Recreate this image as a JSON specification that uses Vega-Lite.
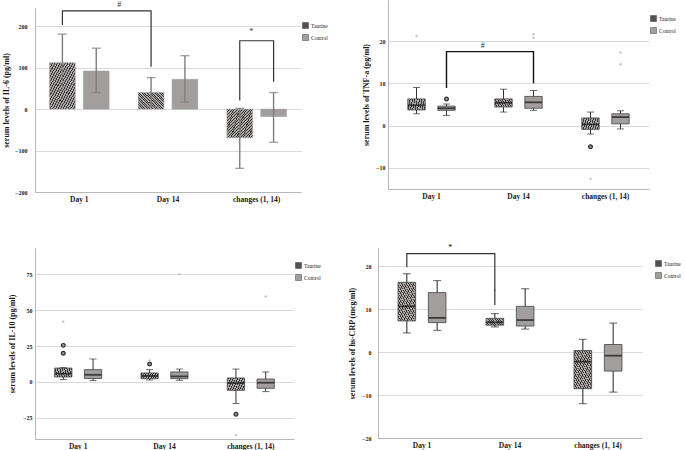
{
"$schema": "https://vega.github.io/schema/vega-lite/v6.json",
"background": "white",
"padding": {"left": 2, "top": 0, "right": 0, "bottom": 0},
"config": {
 "view": {"stroke": null},
 "font": "Liberation Serif",
 "axis": {"labelFont": "Liberation Serif", "labelFontWeight": "bold", "titleFont": "Liberation Serif", "titleFontWeight": "bold", "labelColor": "#1a1a1a", "titleColor": "#1a1a1a", "domainColor": "#b8b8b8", "domainWidth": 1, "ticks": false, "gridColor": "#dadada", "gridWidth": 1},
 "axisX": {"labelFontSize": 7.5, "labelPadding": 3, "labelAngle": 0, "grid": false},
 "axisY": {"labelFontSize": 6, "titleFontSize": 8, "labelPadding": 3, "titlePadding": 5, "grid": true},
 "legend": {"title": null, "orient": "none", "symbolType": "square", "symbolSize": 36, "symbolStrokeColor": "#555", "symbolStrokeWidth": 0.6, "labelFont": "Liberation Serif", "labelFontSize": 5.5, "labelColor": "#222", "rowPadding": 3, "labelOffset": 2, "padding": 0}
},
"datasets": {
 "il6": [
  {"day": "Day 1", "group": "Taurine", "mean": 112, "lo": 46, "hi": 181},
  {"day": "Day 1", "group": "Control", "mean": 92, "lo": 40, "hi": 147},
  {"day": "Day 14", "group": "Taurine", "mean": 40, "lo": 6, "hi": 76},
  {"day": "Day 14", "group": "Control", "mean": 72, "lo": 17, "hi": 129},
  {"day": "changes (1, 14)", "group": "Taurine", "mean": -69, "lo": -143, "hi": 2},
  {"day": "changes (1, 14)", "group": "Control", "mean": -18, "lo": -80, "hi": 40}
 ],
 "boxes": [
  {"panel": "TNF", "day": "Day 1", "group": "Taurine", "lo": 2.8, "q1": 3.7, "med": 4.8, "q3": 6.3, "hi": 9.0},
  {"panel": "TNF", "day": "Day 1", "group": "Control", "lo": 2.4, "q1": 3.6, "med": 4.1, "q3": 4.6, "hi": 5.1},
  {"panel": "TNF", "day": "Day 14", "group": "Taurine", "lo": 3.2, "q1": 4.4, "med": 5.4, "q3": 6.3, "hi": 8.6},
  {"panel": "TNF", "day": "Day 14", "group": "Control", "lo": 3.6, "q1": 4.1, "med": 5.5, "q3": 6.9, "hi": 8.3},
  {"panel": "TNF", "day": "changes (1, 14)", "group": "Taurine", "lo": -2.0, "q1": -0.9, "med": 0.3, "q3": 1.8, "hi": 3.2},
  {"panel": "TNF", "day": "changes (1, 14)", "group": "Control", "lo": -0.8, "q1": 0.4, "med": 2.0, "q3": 2.8, "hi": 3.5},
  {"panel": "IL10", "day": "Day 1", "group": "Taurine", "lo": 1.7, "q1": 3.5, "med": 5.8, "q3": 9.7, "hi": 10.0},
  {"panel": "IL10", "day": "Day 1", "group": "Control", "lo": 1.0, "q1": 2.4, "med": 5.0, "q3": 8.6, "hi": 16.0},
  {"panel": "IL10", "day": "Day 14", "group": "Taurine", "lo": 1.4, "q1": 2.3, "med": 4.2, "q3": 6.3, "hi": 8.6},
  {"panel": "IL10", "day": "Day 14", "group": "Control", "lo": 1.2, "q1": 2.3, "med": 3.9, "q3": 7.0, "hi": 9.0},
  {"panel": "IL10", "day": "changes (1, 14)", "group": "Taurine", "lo": -15.0, "q1": -5.8, "med": -0.7, "q3": 2.8, "hi": 9.0},
  {"panel": "IL10", "day": "changes (1, 14)", "group": "Control", "lo": -6.7, "q1": -4.4, "med": -0.5, "q3": 2.1, "hi": 7.0},
  {"panel": "CRP", "day": "Day 1", "group": "Taurine", "lo": 4.5, "q1": 7.3, "med": 10.7, "q3": 16.3, "hi": 18.3},
  {"panel": "CRP", "day": "Day 1", "group": "Control", "lo": 5.1, "q1": 6.9, "med": 8.0, "q3": 13.9, "hi": 16.7},
  {"panel": "CRP", "day": "Day 14", "group": "Taurine", "lo": 5.9, "q1": 6.3, "med": 7.0, "q3": 7.9, "hi": 9.0},
  {"panel": "CRP", "day": "Day 14", "group": "Control", "lo": 5.4, "q1": 6.1, "med": 7.5, "q3": 10.7, "hi": 14.8},
  {"panel": "CRP", "day": "changes (1, 14)", "group": "Taurine", "lo": -12.0, "q1": -8.5, "med": -2.2, "q3": 0.4, "hi": 3.0},
  {"panel": "CRP", "day": "changes (1, 14)", "group": "Control", "lo": -9.3, "q1": -4.4, "med": -0.8, "q3": 1.8, "hi": 6.8}
 ],
 "outliers": [
  {"panel": "TNF", "day": "Day 1", "group": "Taurine", "value": 21.2, "kind": "extreme"},
  {"panel": "TNF", "day": "Day 1", "group": "Control", "value": 6.3, "kind": "outlier"},
  {"panel": "TNF", "day": "Day 14", "group": "Control", "value": 20.7, "kind": "extreme"},
  {"panel": "TNF", "day": "Day 14", "group": "Control", "value": 21.6, "kind": "extreme"},
  {"panel": "TNF", "day": "changes (1, 14)", "group": "Taurine", "value": -5.0, "kind": "outlier"},
  {"panel": "TNF", "day": "changes (1, 14)", "group": "Taurine", "value": -12.6, "kind": "extreme"},
  {"panel": "TNF", "day": "changes (1, 14)", "group": "Control", "value": 14.5, "kind": "extreme"},
  {"panel": "TNF", "day": "changes (1, 14)", "group": "Control", "value": 17.3, "kind": "extreme"},
  {"panel": "IL10", "day": "Day 1", "group": "Taurine", "value": 25.5, "kind": "outlier"},
  {"panel": "IL10", "day": "Day 1", "group": "Taurine", "value": 20.0, "kind": "outlier"},
  {"panel": "IL10", "day": "Day 1", "group": "Taurine", "value": 42.0, "kind": "extreme"},
  {"panel": "IL10", "day": "Day 14", "group": "Taurine", "value": 12.5, "kind": "outlier"},
  {"panel": "IL10", "day": "Day 14", "group": "Taurine", "value": 15.0, "kind": "extreme"},
  {"panel": "IL10", "day": "Day 14", "group": "Control", "value": 75.0, "kind": "extreme"},
  {"panel": "IL10", "day": "changes (1, 14)", "group": "Taurine", "value": -22.5, "kind": "outlier"},
  {"panel": "IL10", "day": "changes (1, 14)", "group": "Taurine", "value": -37.0, "kind": "extreme"},
  {"panel": "IL10", "day": "changes (1, 14)", "group": "Control", "value": 59.5, "kind": "extreme"},
  {"panel": "CRP", "day": "Day 14", "group": "Taurine", "value": 14.5, "kind": "extreme"}
 ],
 "brackets": [
  {"panel": "IL6", "id": "a", "day": "Day 1", "group": "Taurine", "value": 203, "o": 1},
  {"panel": "IL6", "id": "a", "day": "Day 1", "group": "Taurine", "value": 237, "o": 2},
  {"panel": "IL6", "id": "a", "day": "Day 14", "group": "Taurine", "value": 237, "o": 3},
  {"panel": "IL6", "id": "a", "day": "Day 14", "group": "Taurine", "value": 102, "o": 4},
  {"panel": "IL6", "id": "b", "day": "changes (1, 14)", "group": "Taurine", "value": 21, "o": 1},
  {"panel": "IL6", "id": "b", "day": "changes (1, 14)", "group": "Taurine", "value": 165, "o": 2},
  {"panel": "IL6", "id": "b", "day": "changes (1, 14)", "group": "Control", "value": 165, "o": 3},
  {"panel": "IL6", "id": "b", "day": "changes (1, 14)", "group": "Control", "value": 66, "o": 4},
  {"panel": "TNF", "id": "c", "day": "Day 1", "group": "Control", "value": 8.9, "o": 1},
  {"panel": "TNF", "id": "c", "day": "Day 1", "group": "Control", "value": 17.5, "o": 2},
  {"panel": "TNF", "id": "c", "day": "Day 14", "group": "Control", "value": 17.5, "o": 3},
  {"panel": "TNF", "id": "c", "day": "Day 14", "group": "Control", "value": 10.0, "o": 4},
  {"panel": "CRP", "id": "d", "day": "Day 1", "group": "Taurine", "value": 19.8, "o": 1},
  {"panel": "CRP", "id": "d", "day": "Day 1", "group": "Taurine", "value": 23.0, "o": 2},
  {"panel": "CRP", "id": "d", "day": "Day 14", "group": "Taurine", "value": 23.0, "o": 3},
  {"panel": "CRP", "id": "d", "day": "Day 14", "group": "Taurine", "value": 11.0, "o": 4}
 ],
 "sig": [
  {"id": "a", "day": "Day 1", "value": 251, "label": "#"},
  {"id": "b", "day": "changes (1, 14)", "value": 185, "label": "*"},
  {"id": "c", "day": "Day 14", "value": 18.8, "label": "#"},
  {"id": "d", "day": "Day 1", "value": 24.6, "label": "*"}
 ]
},
"resolve": {"scale": {"fill": "independent"}, "legend": {"fill": "independent"}},
"spacing": 39,
"vconcat": [
 {"spacing": 34,
  "resolve": {"scale": {"fill": "independent", "x": "independent", "y": "independent", "xOffset": "independent"}, "legend": {"fill": "independent"}},
  "hconcat": [
  {"width": 266, "height": 192,
   "encoding": {"x": {"field": "day", "type": "nominal", "title": null, "scale": {"domain": ["Day 1", "Day 14", "changes (1, 14)"], "paddingInner": 0, "paddingOuter": 0}}},
   "layer": [
    {"data": {"name": "il6"},
     "mark": {"type": "bar", "stroke": "#9a9a9a", "strokeWidth": 0.5},
     "encoding": {
      "xOffset": {"field": "group", "type": "nominal", "scale": {"domain": ["Taurine", "Control"], "paddingInner": 0.24, "paddingOuter": 0.43}},
      "y": {"field": "mean", "type": "quantitative", "title": "serum levels of IL-6 (pg/ml)", "scale": {"domain": [-200, 244], "nice": false, "range": [192, 8]}, "axis": {"values": [-200, -100, 0, 100, 200], "labelPadding": 8, "titlePadding": 4}},
      "y2": {"datum": 0},
      "fill": {"field": "group", "type": "nominal",
       "condition": {"test": "datum.group === 'Taurine'", "value": {"gradient":"linear","x1":0,"y1":0,"x2":1,"y2":1,"stops":[{"offset":0,"color":"#3a3737"},{"offset":0.02,"color":"#3a3737"},{"offset":0.02,"color":"#aaa5a5"},{"offset":0.05,"color":"#aaa5a5"},{"offset":0.05,"color":"#3a3737"},{"offset":0.07,"color":"#3a3737"},{"offset":0.07,"color":"#aaa5a5"},{"offset":0.1,"color":"#aaa5a5"},{"offset":0.1,"color":"#3a3737"},{"offset":0.12,"color":"#3a3737"},{"offset":0.12,"color":"#aaa5a5"},{"offset":0.15,"color":"#aaa5a5"},{"offset":0.15,"color":"#3a3737"},{"offset":0.17,"color":"#3a3737"},{"offset":0.17,"color":"#aaa5a5"},{"offset":0.2,"color":"#aaa5a5"},{"offset":0.2,"color":"#3a3737"},{"offset":0.22,"color":"#3a3737"},{"offset":0.22,"color":"#aaa5a5"},{"offset":0.25,"color":"#aaa5a5"},{"offset":0.25,"color":"#3a3737"},{"offset":0.27,"color":"#3a3737"},{"offset":0.27,"color":"#aaa5a5"},{"offset":0.3,"color":"#aaa5a5"},{"offset":0.3,"color":"#3a3737"},{"offset":0.32,"color":"#3a3737"},{"offset":0.32,"color":"#aaa5a5"},{"offset":0.35,"color":"#aaa5a5"},{"offset":0.35,"color":"#3a3737"},{"offset":0.37,"color":"#3a3737"},{"offset":0.37,"color":"#aaa5a5"},{"offset":0.4,"color":"#aaa5a5"},{"offset":0.4,"color":"#3a3737"},{"offset":0.42,"color":"#3a3737"},{"offset":0.42,"color":"#aaa5a5"},{"offset":0.45,"color":"#aaa5a5"},{"offset":0.45,"color":"#3a3737"},{"offset":0.47,"color":"#3a3737"},{"offset":0.47,"color":"#aaa5a5"},{"offset":0.5,"color":"#aaa5a5"},{"offset":0.5,"color":"#3a3737"},{"offset":0.52,"color":"#3a3737"},{"offset":0.52,"color":"#aaa5a5"},{"offset":0.55,"color":"#aaa5a5"},{"offset":0.55,"color":"#3a3737"},{"offset":0.57,"color":"#3a3737"},{"offset":0.57,"color":"#aaa5a5"},{"offset":0.6,"color":"#aaa5a5"},{"offset":0.6,"color":"#3a3737"},{"offset":0.62,"color":"#3a3737"},{"offset":0.62,"color":"#aaa5a5"},{"offset":0.65,"color":"#aaa5a5"},{"offset":0.65,"color":"#3a3737"},{"offset":0.67,"color":"#3a3737"},{"offset":0.67,"color":"#aaa5a5"},{"offset":0.7,"color":"#aaa5a5"},{"offset":0.7,"color":"#3a3737"},{"offset":0.72,"color":"#3a3737"},{"offset":0.72,"color":"#aaa5a5"},{"offset":0.75,"color":"#aaa5a5"},{"offset":0.75,"color":"#3a3737"},{"offset":0.77,"color":"#3a3737"},{"offset":0.77,"color":"#aaa5a5"},{"offset":0.8,"color":"#aaa5a5"},{"offset":0.8,"color":"#3a3737"},{"offset":0.82,"color":"#3a3737"},{"offset":0.82,"color":"#aaa5a5"},{"offset":0.85,"color":"#aaa5a5"},{"offset":0.85,"color":"#3a3737"},{"offset":0.87,"color":"#3a3737"},{"offset":0.87,"color":"#aaa5a5"},{"offset":0.9,"color":"#aaa5a5"},{"offset":0.9,"color":"#3a3737"},{"offset":0.92,"color":"#3a3737"},{"offset":0.92,"color":"#aaa5a5"},{"offset":0.95,"color":"#aaa5a5"},{"offset":0.95,"color":"#3a3737"},{"offset":0.97,"color":"#3a3737"},{"offset":0.97,"color":"#aaa5a5"},{"offset":1,"color":"#aaa5a5"}]}},
       "scale": {"domain": ["Taurine", "Control"], "range": ["#555050", "#a39e9e"]},
       "legend": {"legendX": 267, "legendY": 22}}
     }},
    {"data": {"name": "il6"},
     "mark": {"type": "rule", "color": "#7d7d7d", "strokeWidth": 1.4},
     "encoding": {
      "xOffset": {"field": "group", "type": "nominal", "scale": {"domain": ["Taurine", "Control"], "paddingInner": 0.24, "paddingOuter": 0.43}},
      "y": {"field": "lo", "type": "quantitative", "scale": {"domain": [-200, 244], "nice": false, "range": [192, 8]}},
      "y2": {"field": "hi"}}},
    {"data": {"name": "il6"},
     "mark": {"type": "tick", "color": "#7d7d7d", "thickness": 1.4, "size": 9},
     "encoding": {
      "xOffset": {"field": "group", "type": "nominal", "scale": {"domain": ["Taurine", "Control"], "paddingInner": 0.24, "paddingOuter": 0.43}},
      "y": {"field": "lo", "type": "quantitative", "scale": {"domain": [-200, 244], "nice": false, "range": [192, 8]}}}},
    {"data": {"name": "il6"},
     "mark": {"type": "tick", "color": "#7d7d7d", "thickness": 1.4, "size": 9},
     "encoding": {
      "xOffset": {"field": "group", "type": "nominal", "scale": {"domain": ["Taurine", "Control"], "paddingInner": 0.24, "paddingOuter": 0.43}},
      "y": {"field": "hi", "type": "quantitative", "scale": {"domain": [-200, 244], "nice": false, "range": [192, 8]}}}},
    {"data": {"name": "brackets"},
     "transform": [{"filter": "datum.panel === 'IL6'"}],
     "mark": {"type": "line", "color": "#333333", "strokeWidth": 1.2},
     "encoding": {
      "xOffset": {"field": "group", "type": "nominal", "scale": {"domain": ["Taurine", "Control"], "paddingInner": 0.24, "paddingOuter": 0.43}},
      "y": {"field": "value", "type": "quantitative", "scale": {"domain": [-200, 244], "nice": false, "range": [192, 8]}},
      "order": {"field": "o", "type": "quantitative"},
      "detail": {"field": "id"}}},
    {"data": {"name": "sig"},
     "transform": [{"filter": "datum.id === 'a'"}],
     "mark": {"type": "text", "fontSize": 8, "color": "#333333"},
     "encoding": {
      "x": {"field": "day", "type": "nominal", "bandPosition": 0.95},
      "y": {"field": "value", "type": "quantitative", "scale": {"domain": [-200, 244], "nice": false, "range": [192, 8]}},
      "text": {"field": "label"}}},
    {"data": {"name": "sig"},
     "transform": [{"filter": "datum.id === 'b'"}],
     "mark": {"type": "text", "fontSize": 8, "color": "#333333"},
     "encoding": {
      "x": {"field": "day", "type": "nominal", "bandPosition": 0.44},
      "y": {"field": "value", "type": "quantitative", "scale": {"domain": [-200, 244], "nice": false, "range": [192, 8]}},
      "text": {"field": "label"}}}
   ]},
  {"width": 261, "height": 189,
   "encoding": {"x": {"field": "day", "type": "nominal", "title": null, "scale": {"domain": ["Day 1", "Day 14", "changes (1, 14)"], "paddingInner": 0, "paddingOuter": 0}}},
   "layer": [
    {"data": {"name": "boxes"}, "transform": [{"filter": "datum.panel === 'TNF'"}],
     "mark": {"type": "rule", "color": "#333333", "strokeWidth": 1},
     "encoding": {
      "xOffset": {"field": "group", "type": "nominal", "scale": {"domain": ["Taurine", "Control"], "paddingInner": 0.42, "paddingOuter": 0.66}},
      "y": {"field": "lo", "type": "quantitative", "title": "serum levels of TNF-a (pg/ml)", "scale": {"domain": [-15, 29.7], "nice": false}, "axis": {"values": [-10, 0, 10, 20], "labelPadding": 3, "titlePadding": 5}},
      "y2": {"field": "hi"}}},
    {"data": {"name": "boxes"}, "transform": [{"filter": "datum.panel === 'TNF'"}],
     "mark": {"type": "tick", "color": "#333333", "thickness": 1, "size": 7},
     "encoding": {
      "xOffset": {"field": "group", "type": "nominal", "scale": {"domain": ["Taurine", "Control"], "paddingInner": 0.42, "paddingOuter": 0.66}},
      "y": {"field": "lo", "type": "quantitative", "scale": {"domain": [-15, 29.7], "nice": false}}}},
    {"data": {"name": "boxes"}, "transform": [{"filter": "datum.panel === 'TNF'"}],
     "mark": {"type": "tick", "color": "#333333", "thickness": 1, "size": 7},
     "encoding": {
      "xOffset": {"field": "group", "type": "nominal", "scale": {"domain": ["Taurine", "Control"], "paddingInner": 0.42, "paddingOuter": 0.66}},
      "y": {"field": "hi", "type": "quantitative", "scale": {"domain": [-15, 29.7], "nice": false}}}},
    {"data": {"name": "boxes"}, "transform": [{"filter": "datum.panel === 'TNF'"}],
     "mark": {"type": "bar", "stroke": "#444444", "strokeWidth": 0.8},
     "encoding": {
      "xOffset": {"field": "group", "type": "nominal", "scale": {"domain": ["Taurine", "Control"], "paddingInner": 0.42, "paddingOuter": 0.66}},
      "y": {"field": "q1", "type": "quantitative", "scale": {"domain": [-15, 29.7], "nice": false}},
      "y2": {"field": "q3"},
      "fill": {"field": "group", "type": "nominal",
       "condition": {"test": "datum.group === 'Taurine'", "value": {"gradient":"linear","x1":0,"y1":0,"x2":1,"y2":1,"stops":[{"offset":0,"color":"#3a3737"},{"offset":0.02,"color":"#3a3737"},{"offset":0.02,"color":"#aaa5a5"},{"offset":0.05,"color":"#aaa5a5"},{"offset":0.05,"color":"#3a3737"},{"offset":0.07,"color":"#3a3737"},{"offset":0.07,"color":"#aaa5a5"},{"offset":0.1,"color":"#aaa5a5"},{"offset":0.1,"color":"#3a3737"},{"offset":0.12,"color":"#3a3737"},{"offset":0.12,"color":"#aaa5a5"},{"offset":0.15,"color":"#aaa5a5"},{"offset":0.15,"color":"#3a3737"},{"offset":0.17,"color":"#3a3737"},{"offset":0.17,"color":"#aaa5a5"},{"offset":0.2,"color":"#aaa5a5"},{"offset":0.2,"color":"#3a3737"},{"offset":0.22,"color":"#3a3737"},{"offset":0.22,"color":"#aaa5a5"},{"offset":0.25,"color":"#aaa5a5"},{"offset":0.25,"color":"#3a3737"},{"offset":0.27,"color":"#3a3737"},{"offset":0.27,"color":"#aaa5a5"},{"offset":0.3,"color":"#aaa5a5"},{"offset":0.3,"color":"#3a3737"},{"offset":0.32,"color":"#3a3737"},{"offset":0.32,"color":"#aaa5a5"},{"offset":0.35,"color":"#aaa5a5"},{"offset":0.35,"color":"#3a3737"},{"offset":0.37,"color":"#3a3737"},{"offset":0.37,"color":"#aaa5a5"},{"offset":0.4,"color":"#aaa5a5"},{"offset":0.4,"color":"#3a3737"},{"offset":0.42,"color":"#3a3737"},{"offset":0.42,"color":"#aaa5a5"},{"offset":0.45,"color":"#aaa5a5"},{"offset":0.45,"color":"#3a3737"},{"offset":0.47,"color":"#3a3737"},{"offset":0.47,"color":"#aaa5a5"},{"offset":0.5,"color":"#aaa5a5"},{"offset":0.5,"color":"#3a3737"},{"offset":0.52,"color":"#3a3737"},{"offset":0.52,"color":"#aaa5a5"},{"offset":0.55,"color":"#aaa5a5"},{"offset":0.55,"color":"#3a3737"},{"offset":0.57,"color":"#3a3737"},{"offset":0.57,"color":"#aaa5a5"},{"offset":0.6,"color":"#aaa5a5"},{"offset":0.6,"color":"#3a3737"},{"offset":0.62,"color":"#3a3737"},{"offset":0.62,"color":"#aaa5a5"},{"offset":0.65,"color":"#aaa5a5"},{"offset":0.65,"color":"#3a3737"},{"offset":0.67,"color":"#3a3737"},{"offset":0.67,"color":"#aaa5a5"},{"offset":0.7,"color":"#aaa5a5"},{"offset":0.7,"color":"#3a3737"},{"offset":0.72,"color":"#3a3737"},{"offset":0.72,"color":"#aaa5a5"},{"offset":0.75,"color":"#aaa5a5"},{"offset":0.75,"color":"#3a3737"},{"offset":0.77,"color":"#3a3737"},{"offset":0.77,"color":"#aaa5a5"},{"offset":0.8,"color":"#aaa5a5"},{"offset":0.8,"color":"#3a3737"},{"offset":0.82,"color":"#3a3737"},{"offset":0.82,"color":"#aaa5a5"},{"offset":0.85,"color":"#aaa5a5"},{"offset":0.85,"color":"#3a3737"},{"offset":0.87,"color":"#3a3737"},{"offset":0.87,"color":"#aaa5a5"},{"offset":0.9,"color":"#aaa5a5"},{"offset":0.9,"color":"#3a3737"},{"offset":0.92,"color":"#3a3737"},{"offset":0.92,"color":"#aaa5a5"},{"offset":0.95,"color":"#aaa5a5"},{"offset":0.95,"color":"#3a3737"},{"offset":0.97,"color":"#3a3737"},{"offset":0.97,"color":"#aaa5a5"},{"offset":1,"color":"#aaa5a5"}]}},
       "scale": {"domain": ["Taurine", "Control"], "range": ["#555050", "#a39e9e"]},
       "legend": {"legendX": 262, "legendY": 15}}}},
    {"data": {"name": "boxes"}, "transform": [{"filter": "datum.panel === 'TNF'"}],
     "mark": {"type": "tick", "color": "#111111", "thickness": 1.8, "size": 17},
     "encoding": {
      "xOffset": {"field": "group", "type": "nominal", "scale": {"domain": ["Taurine", "Control"], "paddingInner": 0.42, "paddingOuter": 0.66}},
      "y": {"field": "med", "type": "quantitative", "scale": {"domain": [-15, 29.7], "nice": false}}}},
    {"data": {"name": "outliers"}, "transform": [{"filter": "datum.panel === 'TNF' && datum.kind === 'outlier'"}],
     "mark": {"type": "point", "shape": "circle", "size": 14, "filled": true, "fill": "#9a9a9a", "stroke": "#2a2a2a", "strokeWidth": 1.2, "opacity": 1},
     "encoding": {
      "xOffset": {"field": "group", "type": "nominal", "scale": {"domain": ["Taurine", "Control"], "paddingInner": 0.42, "paddingOuter": 0.66}},
      "y": {"field": "value", "type": "quantitative", "scale": {"domain": [-15, 29.7], "nice": false}}}},
    {"data": {"name": "outliers"}, "transform": [{"filter": "datum.panel === 'TNF' && datum.kind === 'extreme'"}],
     "mark": {"type": "point", "shape": "circle", "size": 6, "filled": true, "color": "#c6c6c6", "opacity": 1},
     "encoding": {
      "xOffset": {"field": "group", "type": "nominal", "scale": {"domain": ["Taurine", "Control"], "paddingInner": 0.42, "paddingOuter": 0.66}},
      "y": {"field": "value", "type": "quantitative", "scale": {"domain": [-15, 29.7], "nice": false}}}},
    {"data": {"name": "brackets"}, "transform": [{"filter": "datum.panel === 'TNF'"}],
     "mark": {"type": "line", "color": "#111111", "strokeWidth": 1.4},
     "encoding": {
      "xOffset": {"field": "group", "type": "nominal", "scale": {"domain": ["Taurine", "Control"], "paddingInner": 0.42, "paddingOuter": 0.66}},
      "y": {"field": "value", "type": "quantitative", "scale": {"domain": [-15, 29.7], "nice": false}},
      "order": {"field": "o", "type": "quantitative"},
      "detail": {"field": "id"}}},
    {"data": {"name": "sig"}, "transform": [{"filter": "datum.id === 'c'"}],
     "mark": {"type": "text", "fontSize": 8, "color": "#333333"},
     "encoding": {
      "x": {"field": "day", "type": "nominal", "bandPosition": 0.09},
      "y": {"field": "value", "type": "quantitative", "scale": {"domain": [-15, 29.7], "nice": false}},
      "text": {"field": "label"}}}
   ]}
 ]},
 {"spacing": 27,
  "resolve": {"scale": {"fill": "independent", "x": "independent", "y": "independent", "xOffset": "independent"}, "legend": {"fill": "independent"}},
  "hconcat": [
  {"width": 259, "height": 191,
   "encoding": {"x": {"field": "day", "type": "nominal", "title": null, "scale": {"domain": ["Day 1", "Day 14", "changes (1, 14)"], "paddingInner": 0, "paddingOuter": 0}}},
   "layer": [
    {"data": {"name": "boxes"}, "transform": [{"filter": "datum.panel === 'IL10'"}],
     "mark": {"type": "rule", "color": "#333333", "strokeWidth": 1},
     "encoding": {
      "xOffset": {"field": "group", "type": "nominal", "scale": {"domain": ["Taurine", "Control"], "paddingInner": 0.42, "paddingOuter": 0.66}},
      "y": {"field": "lo", "type": "quantitative", "title": "serum levels of IL-10 (pg/ml)", "scale": {"domain": [-39.7, 93.3], "nice": false}, "axis": {"values": [-25, 0, 25, 50, 75], "labelPadding": 3, "titlePadding": 6}},
      "y2": {"field": "hi"}}},
    {"data": {"name": "boxes"}, "transform": [{"filter": "datum.panel === 'IL10'"}],
     "mark": {"type": "tick", "color": "#333333", "thickness": 1, "size": 7},
     "encoding": {
      "xOffset": {"field": "group", "type": "nominal", "scale": {"domain": ["Taurine", "Control"], "paddingInner": 0.42, "paddingOuter": 0.66}},
      "y": {"field": "lo", "type": "quantitative", "scale": {"domain": [-39.7, 93.3], "nice": false}}}},
    {"data": {"name": "boxes"}, "transform": [{"filter": "datum.panel === 'IL10'"}],
     "mark": {"type": "tick", "color": "#333333", "thickness": 1, "size": 7},
     "encoding": {
      "xOffset": {"field": "group", "type": "nominal", "scale": {"domain": ["Taurine", "Control"], "paddingInner": 0.42, "paddingOuter": 0.66}},
      "y": {"field": "hi", "type": "quantitative", "scale": {"domain": [-39.7, 93.3], "nice": false}}}},
    {"data": {"name": "boxes"}, "transform": [{"filter": "datum.panel === 'IL10'"}],
     "mark": {"type": "bar", "stroke": "#444444", "strokeWidth": 0.8},
     "encoding": {
      "xOffset": {"field": "group", "type": "nominal", "scale": {"domain": ["Taurine", "Control"], "paddingInner": 0.42, "paddingOuter": 0.66}},
      "y": {"field": "q1", "type": "quantitative", "scale": {"domain": [-39.7, 93.3], "nice": false}},
      "y2": {"field": "q3"},
      "fill": {"field": "group", "type": "nominal",
       "condition": {"test": "datum.group === 'Taurine'", "value": {"gradient":"linear","x1":0,"y1":0,"x2":1,"y2":1,"stops":[{"offset":0,"color":"#3a3737"},{"offset":0.02,"color":"#3a3737"},{"offset":0.02,"color":"#aaa5a5"},{"offset":0.05,"color":"#aaa5a5"},{"offset":0.05,"color":"#3a3737"},{"offset":0.07,"color":"#3a3737"},{"offset":0.07,"color":"#aaa5a5"},{"offset":0.1,"color":"#aaa5a5"},{"offset":0.1,"color":"#3a3737"},{"offset":0.12,"color":"#3a3737"},{"offset":0.12,"color":"#aaa5a5"},{"offset":0.15,"color":"#aaa5a5"},{"offset":0.15,"color":"#3a3737"},{"offset":0.17,"color":"#3a3737"},{"offset":0.17,"color":"#aaa5a5"},{"offset":0.2,"color":"#aaa5a5"},{"offset":0.2,"color":"#3a3737"},{"offset":0.22,"color":"#3a3737"},{"offset":0.22,"color":"#aaa5a5"},{"offset":0.25,"color":"#aaa5a5"},{"offset":0.25,"color":"#3a3737"},{"offset":0.27,"color":"#3a3737"},{"offset":0.27,"color":"#aaa5a5"},{"offset":0.3,"color":"#aaa5a5"},{"offset":0.3,"color":"#3a3737"},{"offset":0.32,"color":"#3a3737"},{"offset":0.32,"color":"#aaa5a5"},{"offset":0.35,"color":"#aaa5a5"},{"offset":0.35,"color":"#3a3737"},{"offset":0.37,"color":"#3a3737"},{"offset":0.37,"color":"#aaa5a5"},{"offset":0.4,"color":"#aaa5a5"},{"offset":0.4,"color":"#3a3737"},{"offset":0.42,"color":"#3a3737"},{"offset":0.42,"color":"#aaa5a5"},{"offset":0.45,"color":"#aaa5a5"},{"offset":0.45,"color":"#3a3737"},{"offset":0.47,"color":"#3a3737"},{"offset":0.47,"color":"#aaa5a5"},{"offset":0.5,"color":"#aaa5a5"},{"offset":0.5,"color":"#3a3737"},{"offset":0.52,"color":"#3a3737"},{"offset":0.52,"color":"#aaa5a5"},{"offset":0.55,"color":"#aaa5a5"},{"offset":0.55,"color":"#3a3737"},{"offset":0.57,"color":"#3a3737"},{"offset":0.57,"color":"#aaa5a5"},{"offset":0.6,"color":"#aaa5a5"},{"offset":0.6,"color":"#3a3737"},{"offset":0.62,"color":"#3a3737"},{"offset":0.62,"color":"#aaa5a5"},{"offset":0.65,"color":"#aaa5a5"},{"offset":0.65,"color":"#3a3737"},{"offset":0.67,"color":"#3a3737"},{"offset":0.67,"color":"#aaa5a5"},{"offset":0.7,"color":"#aaa5a5"},{"offset":0.7,"color":"#3a3737"},{"offset":0.72,"color":"#3a3737"},{"offset":0.72,"color":"#aaa5a5"},{"offset":0.75,"color":"#aaa5a5"},{"offset":0.75,"color":"#3a3737"},{"offset":0.77,"color":"#3a3737"},{"offset":0.77,"color":"#aaa5a5"},{"offset":0.8,"color":"#aaa5a5"},{"offset":0.8,"color":"#3a3737"},{"offset":0.82,"color":"#3a3737"},{"offset":0.82,"color":"#aaa5a5"},{"offset":0.85,"color":"#aaa5a5"},{"offset":0.85,"color":"#3a3737"},{"offset":0.87,"color":"#3a3737"},{"offset":0.87,"color":"#aaa5a5"},{"offset":0.9,"color":"#aaa5a5"},{"offset":0.9,"color":"#3a3737"},{"offset":0.92,"color":"#3a3737"},{"offset":0.92,"color":"#aaa5a5"},{"offset":0.95,"color":"#aaa5a5"},{"offset":0.95,"color":"#3a3737"},{"offset":0.97,"color":"#3a3737"},{"offset":0.97,"color":"#aaa5a5"},{"offset":1,"color":"#aaa5a5"}]}},
       "scale": {"domain": ["Taurine", "Control"], "range": ["#555050", "#a39e9e"]},
       "legend": {"legendX": 260, "legendY": 14}}}},
    {"data": {"name": "boxes"}, "transform": [{"filter": "datum.panel === 'IL10'"}],
     "mark": {"type": "tick", "color": "#111111", "thickness": 1.8, "size": 17},
     "encoding": {
      "xOffset": {"field": "group", "type": "nominal", "scale": {"domain": ["Taurine", "Control"], "paddingInner": 0.42, "paddingOuter": 0.66}},
      "y": {"field": "med", "type": "quantitative", "scale": {"domain": [-39.7, 93.3], "nice": false}}}},
    {"data": {"name": "outliers"}, "transform": [{"filter": "datum.panel === 'IL10' && datum.kind === 'outlier'"}],
     "mark": {"type": "point", "shape": "circle", "size": 14, "filled": true, "fill": "#9a9a9a", "stroke": "#2a2a2a", "strokeWidth": 1.2, "opacity": 1},
     "encoding": {
      "xOffset": {"field": "group", "type": "nominal", "scale": {"domain": ["Taurine", "Control"], "paddingInner": 0.42, "paddingOuter": 0.66}},
      "y": {"field": "value", "type": "quantitative", "scale": {"domain": [-39.7, 93.3], "nice": false}}}},
    {"data": {"name": "outliers"}, "transform": [{"filter": "datum.panel === 'IL10' && datum.kind === 'extreme'"}],
     "mark": {"type": "point", "shape": "circle", "size": 6, "filled": true, "color": "#c6c6c6", "opacity": 1},
     "encoding": {
      "xOffset": {"field": "group", "type": "nominal", "scale": {"domain": ["Taurine", "Control"], "paddingInner": 0.42, "paddingOuter": 0.66}},
      "y": {"field": "value", "type": "quantitative", "scale": {"domain": [-39.7, 93.3], "nice": false}}}}
   ]},
  {"width": 264, "height": 190,
   "encoding": {"x": {"field": "day", "type": "nominal", "title": null, "scale": {"domain": ["Day 1", "Day 14", "changes (1, 14)"], "paddingInner": 0, "paddingOuter": 0}}},
   "layer": [
    {"data": {"name": "boxes"}, "transform": [{"filter": "datum.panel === 'CRP'"}],
     "mark": {"type": "rule", "color": "#333333", "strokeWidth": 1.1},
     "encoding": {
      "xOffset": {"field": "group", "type": "nominal", "scale": {"domain": ["Taurine", "Control"], "paddingInner": 0.42, "paddingOuter": 0.66}},
      "y": {"field": "lo", "type": "quantitative", "title": "serum levels of hs-CRP (mcg/ml)", "scale": {"domain": [-20, 24.3], "nice": false}, "axis": {"values": [-20, -10, 0, 10, 20], "labelPadding": 7, "titlePadding": 5}},
      "y2": {"field": "hi"}}},
    {"data": {"name": "boxes"}, "transform": [{"filter": "datum.panel === 'CRP'"}],
     "mark": {"type": "tick", "color": "#333333", "thickness": 1.1, "size": 8},
     "encoding": {
      "xOffset": {"field": "group", "type": "nominal", "scale": {"domain": ["Taurine", "Control"], "paddingInner": 0.42, "paddingOuter": 0.66}},
      "y": {"field": "lo", "type": "quantitative", "scale": {"domain": [-20, 24.3], "nice": false}}}},
    {"data": {"name": "boxes"}, "transform": [{"filter": "datum.panel === 'CRP'"}],
     "mark": {"type": "tick", "color": "#333333", "thickness": 1.1, "size": 8},
     "encoding": {
      "xOffset": {"field": "group", "type": "nominal", "scale": {"domain": ["Taurine", "Control"], "paddingInner": 0.42, "paddingOuter": 0.66}},
      "y": {"field": "hi", "type": "quantitative", "scale": {"domain": [-20, 24.3], "nice": false}}}},
    {"data": {"name": "boxes"}, "transform": [{"filter": "datum.panel === 'CRP'"}],
     "mark": {"type": "bar", "stroke": "#444444", "strokeWidth": 0.8},
     "encoding": {
      "xOffset": {"field": "group", "type": "nominal", "scale": {"domain": ["Taurine", "Control"], "paddingInner": 0.42, "paddingOuter": 0.66}},
      "y": {"field": "q1", "type": "quantitative", "scale": {"domain": [-20, 24.3], "nice": false}},
      "y2": {"field": "q3"},
      "fill": {"field": "group", "type": "nominal",
       "condition": {"test": "datum.group === 'Taurine'", "value": {"gradient":"linear","x1":0,"y1":0,"x2":1,"y2":1,"stops":[{"offset":0,"color":"#3a3737"},{"offset":0.02,"color":"#3a3737"},{"offset":0.02,"color":"#aaa5a5"},{"offset":0.05,"color":"#aaa5a5"},{"offset":0.05,"color":"#3a3737"},{"offset":0.07,"color":"#3a3737"},{"offset":0.07,"color":"#aaa5a5"},{"offset":0.1,"color":"#aaa5a5"},{"offset":0.1,"color":"#3a3737"},{"offset":0.12,"color":"#3a3737"},{"offset":0.12,"color":"#aaa5a5"},{"offset":0.15,"color":"#aaa5a5"},{"offset":0.15,"color":"#3a3737"},{"offset":0.17,"color":"#3a3737"},{"offset":0.17,"color":"#aaa5a5"},{"offset":0.2,"color":"#aaa5a5"},{"offset":0.2,"color":"#3a3737"},{"offset":0.22,"color":"#3a3737"},{"offset":0.22,"color":"#aaa5a5"},{"offset":0.25,"color":"#aaa5a5"},{"offset":0.25,"color":"#3a3737"},{"offset":0.27,"color":"#3a3737"},{"offset":0.27,"color":"#aaa5a5"},{"offset":0.3,"color":"#aaa5a5"},{"offset":0.3,"color":"#3a3737"},{"offset":0.32,"color":"#3a3737"},{"offset":0.32,"color":"#aaa5a5"},{"offset":0.35,"color":"#aaa5a5"},{"offset":0.35,"color":"#3a3737"},{"offset":0.37,"color":"#3a3737"},{"offset":0.37,"color":"#aaa5a5"},{"offset":0.4,"color":"#aaa5a5"},{"offset":0.4,"color":"#3a3737"},{"offset":0.42,"color":"#3a3737"},{"offset":0.42,"color":"#aaa5a5"},{"offset":0.45,"color":"#aaa5a5"},{"offset":0.45,"color":"#3a3737"},{"offset":0.47,"color":"#3a3737"},{"offset":0.47,"color":"#aaa5a5"},{"offset":0.5,"color":"#aaa5a5"},{"offset":0.5,"color":"#3a3737"},{"offset":0.52,"color":"#3a3737"},{"offset":0.52,"color":"#aaa5a5"},{"offset":0.55,"color":"#aaa5a5"},{"offset":0.55,"color":"#3a3737"},{"offset":0.57,"color":"#3a3737"},{"offset":0.57,"color":"#aaa5a5"},{"offset":0.6,"color":"#aaa5a5"},{"offset":0.6,"color":"#3a3737"},{"offset":0.62,"color":"#3a3737"},{"offset":0.62,"color":"#aaa5a5"},{"offset":0.65,"color":"#aaa5a5"},{"offset":0.65,"color":"#3a3737"},{"offset":0.67,"color":"#3a3737"},{"offset":0.67,"color":"#aaa5a5"},{"offset":0.7,"color":"#aaa5a5"},{"offset":0.7,"color":"#3a3737"},{"offset":0.72,"color":"#3a3737"},{"offset":0.72,"color":"#aaa5a5"},{"offset":0.75,"color":"#aaa5a5"},{"offset":0.75,"color":"#3a3737"},{"offset":0.77,"color":"#3a3737"},{"offset":0.77,"color":"#aaa5a5"},{"offset":0.8,"color":"#aaa5a5"},{"offset":0.8,"color":"#3a3737"},{"offset":0.82,"color":"#3a3737"},{"offset":0.82,"color":"#aaa5a5"},{"offset":0.85,"color":"#aaa5a5"},{"offset":0.85,"color":"#3a3737"},{"offset":0.87,"color":"#3a3737"},{"offset":0.87,"color":"#aaa5a5"},{"offset":0.9,"color":"#aaa5a5"},{"offset":0.9,"color":"#3a3737"},{"offset":0.92,"color":"#3a3737"},{"offset":0.92,"color":"#aaa5a5"},{"offset":0.95,"color":"#aaa5a5"},{"offset":0.95,"color":"#3a3737"},{"offset":0.97,"color":"#3a3737"},{"offset":0.97,"color":"#aaa5a5"},{"offset":1,"color":"#aaa5a5"}]}},
       "scale": {"domain": ["Taurine", "Control"], "range": ["#555050", "#a39e9e"]},
       "legend": {"legendX": 277, "legendY": 12}}}},
    {"data": {"name": "boxes"}, "transform": [{"filter": "datum.panel === 'CRP'"}],
     "mark": {"type": "tick", "color": "#111111", "thickness": 1.8, "size": 17},
     "encoding": {
      "xOffset": {"field": "group", "type": "nominal", "scale": {"domain": ["Taurine", "Control"], "paddingInner": 0.42, "paddingOuter": 0.66}},
      "y": {"field": "med", "type": "quantitative", "scale": {"domain": [-20, 24.3], "nice": false}}}},
    {"data": {"name": "outliers"}, "transform": [{"filter": "datum.panel === 'CRP' && datum.kind === 'extreme'"}],
     "mark": {"type": "point", "shape": "circle", "size": 6, "filled": true, "color": "#c6c6c6", "opacity": 1},
     "encoding": {
      "xOffset": {"field": "group", "type": "nominal", "scale": {"domain": ["Taurine", "Control"], "paddingInner": 0.42, "paddingOuter": 0.66}},
      "y": {"field": "value", "type": "quantitative", "scale": {"domain": [-20, 24.3], "nice": false}}}},
    {"data": {"name": "brackets"}, "transform": [{"filter": "datum.panel === 'CRP'"}],
     "mark": {"type": "line", "color": "#333333", "strokeWidth": 1.2},
     "encoding": {
      "xOffset": {"field": "group", "type": "nominal", "scale": {"domain": ["Taurine", "Control"], "paddingInner": 0.42, "paddingOuter": 0.66}},
      "y": {"field": "value", "type": "quantitative", "scale": {"domain": [-20, 24.3], "nice": false}},
      "order": {"field": "o", "type": "quantitative"},
      "detail": {"field": "id"}}},
    {"data": {"name": "sig"}, "transform": [{"filter": "datum.id === 'd'"}],
     "mark": {"type": "text", "fontSize": 9, "color": "#222222"},
     "encoding": {
      "x": {"field": "day", "type": "nominal", "bandPosition": 0.82},
      "y": {"field": "value", "type": "quantitative", "scale": {"domain": [-20, 24.3], "nice": false}},
      "text": {"field": "label"}}}
   ]}
 ]}
]
}
